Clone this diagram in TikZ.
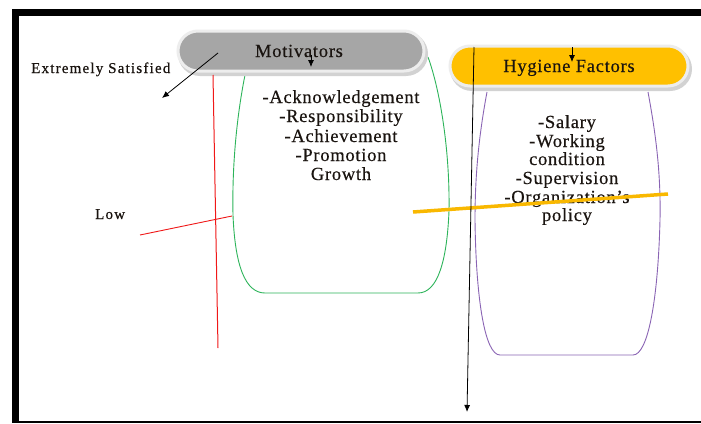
\documentclass[tikz,border=0pt]{standalone}
\usepackage{fontspec}
\setmainfont{Liberation Serif}
\newfontfamily\lsf[LetterSpace=4,FakeBold=0.4]{Liberation Serif}
\newfontfamily\lsfs[LetterSpace=8,FakeBold=0.5]{Liberation Serif}
\usetikzlibrary{shapes.misc,arrows.meta}
\definecolor{pillgray}{HTML}{A6A6A6}
\definecolor{pillgold}{HTML}{FFC000}
\definecolor{rimgray}{HTML}{EDEDED}
\definecolor{shadowgray}{HTML}{D2D2D2}
\definecolor{greenline}{HTML}{2DB45A}
\definecolor{purpleline}{HTML}{8A64B4}
\definecolor{orangeline}{HTML}{F9B800}
\definecolor{redline}{HTML}{F01818}
\definecolor{textdark}{HTML}{1A1410}
\begin{document}
\begin{tikzpicture}[x=1pt,y=-1pt,
  pill/.style={rounded rectangle, inner sep=0pt, draw=rimgray, line width=3pt},
  shadowpill/.style={rounded rectangle, inner sep=0pt, fill=shadowgray},
  listtext/.style={font=\lsf\fontsize{18.5}{20}\selectfont, text=textdark, anchor=base, inner sep=0pt},
  smalltext/.style={font=\lsfs\fontsize{15}{16}\selectfont, text=textdark, anchor=base west, inner sep=0pt},
  arr/.style={-{Latex[length=7pt,width=6pt]}, line width=0.8pt}]
\useasboundingbox (0,0) rectangle (701,423);
\fill[white] (0,0) rectangle (701,423);
% frame
\fill[black] (12,9) rectangle (701,16);
\fill[black] (12,9) rectangle (19,423);
\fill[black] (12,421) rectangle (701,423);

% containers
\draw[greenline, line width=0.9pt] (245,75) .. controls (236,120) and (232,170) .. (233,215)
  .. controls (235,265) and (245,293) .. (265,293) -- (418,293)
  .. controls (438,293) and (447,260) .. (449,211)
  .. controls (450,150) and (440,90) .. (428,57);
\draw[purpleline, line width=0.9pt] (487,92) .. controls (478,140) and (475,180) .. (475,220)
  .. controls (476,300) and (485,355) .. (500,355) -- (633,355)
  .. controls (648,355) and (658,300) .. (660,220)
  .. controls (661,170) and (655,130) .. (648,92);

% pills
\node[shadowpill, minimum width=250pt, minimum height=44pt] (mots) at (303,54) {};
\node[pill, fill=pillgray, minimum width=246pt, minimum height=40pt] (mot) at (301,51) {};
\node[listtext] (mott) at (299,57) {Motivators};
\node[shadowpill, minimum width=242pt, minimum height=44pt] (hygs) at (571,69) {};
\node[pill, fill=pillgold, minimum width=238pt, minimum height=40pt] (hyg) at (569,66) {};
\node[listtext] (hygt) at (569,72) {Hygiene Factors};

% lists
\foreach \t/\y [count=\i] in {-Acknowledgement/103, -Responsibility/122, -Achievement/142, -Promotion/161, Growth/180}
  \node[listtext] (m\i) at (341,\y) {\t};
\foreach \t/\y [count=\i] in {-Salary/128, -Working/147, condition/165, -Supervision/184, -Organization’s/203, policy/221}
  \node[listtext] (h\i) at (567,\y) {\t};

% labels
\node[smalltext] (es) at (31,73) {Extremely Satisfied};
\node[smalltext] (low) at (95,219) {Low};

% red lines
\coordinate (r1) at (213,75);
\coordinate (r2) at (218,348);
\coordinate (r3) at (140,235);
\coordinate (r4) at (232,216);
\draw[redline, line width=1pt] (r1) -- (r2);
\draw[redline, line width=0.9pt] (r3) -- (r4);

% orange line
\coordinate (o1) at (413,212);
\coordinate (o2) at (668,194);
\draw[orangeline, line width=3.5pt] (o1) -- (o2);

% arrows
\coordinate (a1) at (218,53);
\coordinate (a2) at (162,98);
\draw[arr] (a1) -- (a2);
\coordinate (b1) at (311,55);
\coordinate (b2) at (311,67);
\draw[arr] (b1) -- (b2);
\coordinate (c1) at (572,47);
\coordinate (c2) at (572,62);
\draw[arr] (c1) -- (c2);
\coordinate (d1) at (474,47);
\coordinate (d2) at (467,412);
\draw[arr] (d1) -- (d2);
\end{tikzpicture}
\end{document}
